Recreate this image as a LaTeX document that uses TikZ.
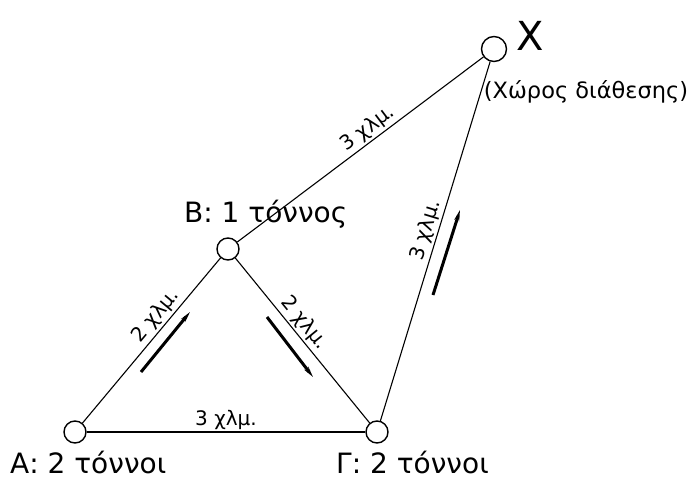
\documentclass[tikz,border=0pt]{standalone}
\usepackage{fontspec}
\setmainfont{DejaVu Sans}
\usetikzlibrary{arrows.meta}

\tikzset{
  town/.style={circle,draw,line width=1.4pt,minimum size=22pt,inner sep=0pt},
  road/.style={line width=1.1pt},
  dist/.style={font=\fontsize{20}{20}\selectfont,inner sep=2pt,sloped,above},
  flow/.style={line width=3pt,-{Stealth[length=11pt,width=5pt]}},
  tag/.style={font=\fontsize{28}{28}\selectfont,inner sep=0pt}
}

\begin{document}
\begin{tikzpicture}[x=1pt,y=-1pt]
  \useasboundingbox (0,0) rectangle (689,480);
  \node[town] (A) at (75,432) {};
  \node[town] (B) at (228,249) {};
  \node[town] (G) at (377,432) {};
  \node[town,minimum size=25pt] (X) at (494,49) {};

  \draw[road] (A) -- node[dist,pos=0.6] {2 χλμ.} (B);
  \draw[road] (B) -- node[dist,pos=0.44] {2 χλμ.} (G);
  \draw[road] (A) -- node[dist] {3 χλμ.} (G);
  \draw[road] (G) -- node[dist,pos=0.52] {3 χλμ.} (X);
  \draw[road] (B) -- node[dist,pos=0.56] {3 χλμ.} (X);

  \node[tag,anchor=base west] (tagA) at (10,473) {Α: 2 τόννοι};
  \node[tag,anchor=base west] (tagB) at (184,222) {Β: 1 τόννος};
  \node[tag,anchor=base west] (tagG) at (336,473) {Γ: 2 τόννοι};
  \node[font=\fontsize{40}{40}\selectfont,inner sep=0pt] (tagX) at (530,36) {Χ};
  \node[font=\fontsize{22.5}{22.5}\selectfont,inner sep=0pt] (site) at (586,92) {(Χώρος διάθεσης)};

  \coordinate (ab1) at (141,372); \coordinate (ab2) at (190,312);
  \coordinate (bg1) at (267,317); \coordinate (bg2) at (313,377);
  \coordinate (gx1) at (433,295); \coordinate (gx2) at (460,210);
  \draw[flow] (ab1) -- (ab2);
  \draw[flow] (bg1) -- (bg2);
  \draw[flow] (gx1) -- (gx2);
\end{tikzpicture}
\end{document}
